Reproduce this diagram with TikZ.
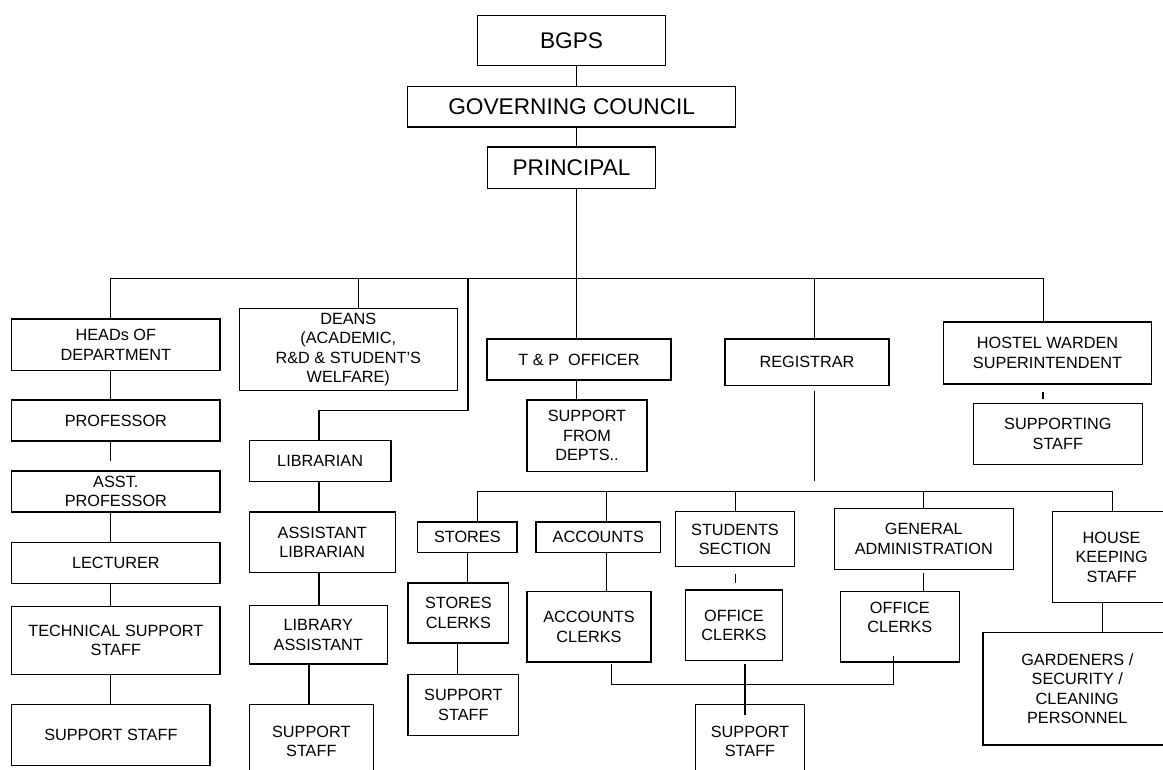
\documentclass[tikz,border=0pt]{standalone}
\usepackage{fontspec}
\setmainfont{Liberation Sans}
\usetikzlibrary{calc}
\tikzset{
  box/.style={draw, line width=0.8pt, inner sep=0pt, align=center, font=\fontsize{12.2}{14.5}\selectfont},
  bigbox/.style={box, font=\fontsize{17}{20}\selectfont},
  txt/.style={inner sep=0pt, align=center, font=\fontsize{12.2}{14.5}\selectfont},
  conn/.style={line width=0.8pt}
}
\newcommand\bx[7][box]{%
  \pgfmathsetmacro\mybw{(#5-#3)*0.75}%
  \pgfmathsetmacro\mybh{(#6-#4)*0.75}%
  \node[#1, minimum width=\mybw pt, minimum height=\mybh pt] (#2) at ({(#3+#5)/2},{(#4+#6)/2}) {#7};}
\begin{document}
\begin{tikzpicture}[x=0.75pt,y=-0.75pt]
\path[use as bounding box, clip] (0,0) rectangle (1163,769);
\fill[white] (0,0) rectangle (1163,769);
% top
\bx[bigbox]{bgps}{477.3}{15.7}{665.7}{65.7}{BGPS}
\bx[bigbox]{gc}{407.7}{86.7}{735.7}{127}{GOVERNING COUNCIL}
\bx[bigbox]{pr}{487.3}{147}{655.7}{188.3}{PRINCIPAL}
% left column
\bx{heads}{11.7}{319}{220}{370.7}{HEADs OF\\DEPARTMENT}
\bx{prof}{11.7}{400}{220}{441}{PROFESSOR}
\bx{asst}{11.7}{471}{220}{512}{ASST.\\PROFESSOR}
\bx{lect}{11.7}{542.3}{220}{583.3}{LECTURER}
\bx{tech}{11.7}{606.7}{220}{674.3}{TECHNICAL SUPPORT\\STAFF}
\bx{supa}{11.7}{704.3}{210}{765.7}{SUPPORT STAFF}
% deans / library
\bx{deans}{239.3}{308.7}{457.3}{390.3}{DEANS\\(ACADEMIC,\\R\&D \& STUDENT’S\\WELFARE)}
\bx{lib}{249.3}{440.7}{391}{481.3}{LIBRARIAN}
\bx{alib}{249.3}{512}{395.3}{572.7}{ASSISTANT\\LIBRARIAN}
\bx{liba}{249.3}{605.7}{387.3}{664}{LIBRARY\\ASSISTANT}
\bx{supb}{249.3}{704.3}{373.3}{779}{SUPPORT\\STAFF}
% T&P
\bx{tp}{487}{339}{671}{380}{T \& P\ \ OFFICER}
\bx{sfd}{527}{400}{647}{471.3}{SUPPORT\\FROM\\DEPTS..}
% registrar
\bx{reg}{725}{339}{889}{385.3}{REGISTRAR}
% hostel
\bx{hostel}{943.3}{322}{1151.7}{384}{HOSTEL WARDEN\\SUPERINTENDENT}
\bx{sting}{973.3}{403.3}{1142.3}{464.3}{SUPPORTING\\STAFF}
% registrar sections
\bx{stores}{417.7}{522}{517}{552.3}{STORES}
\bx{stc}{408}{583}{508.7}{643}{STORES\\CLERKS}
\bx{supc}{408}{674.3}{518.7}{735.3}{SUPPORT\\STAFF}
\bx{acc}{536}{522}{660.7}{552.3}{ACCOUNTS}
\bx{acc2}{527}{591.7}{651}{662}{ACCOUNTS\\CLERKS}
\bx{stu}{675.3}{511.7}{794.7}{566.7}{STUDENTS\\SECTION}
\bx{ocA}{685.7}{590}{782.3}{660.3}{OFFICE\\CLERKS}
\bx{supd}{695.7}{704.3}{804.3}{779}{SUPPORT\\STAFF}
\bx{ga}{834.3}{508.7}{1013.3}{569.3}{GENERAL\\ADMINISTRATION}
\bx{ocB}{840.3}{591.7}{959.3}{662}{}
\node[txt] at ($(ocB.center)+(0,-9.3)$) {OFFICE\\CLERKS};
\bx{hk}{1052.3}{511.7}{1171}{602.7}{HOUSE\\KEEPING\\STAFF}
\bx{gard}{983}{632.3}{1171.6}{745}{GARDENERS /\\SECURITY /\\CLEANING\\PERSONNEL}
% coordinates
\coordinate (sp) at (576.7,278.3);
\coordinate (bL) at (110.7,278.3);
\coordinate (bR) at (1043.3,278.3);
\coordinate (cd) at (358.7,278.3);
\coordinate (cr) at (814.3,278.3);
\coordinate (cl) at (468,278.3);
\coordinate (cl2) at (468,410.5);
\coordinate (cl3) at (319,410.5);
\coordinate (g1) at (110.7,461.3);
\coordinate (c2b) at (309,0);
\coordinate (r1) at (814.3,390.7);
\coordinate (r2) at (814.3,481);
\coordinate (sbL) at (477.7,491.7);
\coordinate (sbR) at (1112.3,491.7);
\coordinate (ca) at (606.7,491.7);
\coordinate (cs) at (735.3,491.7);
\coordinate (cg) at (923.7,491.7);
\coordinate (t1a) at (735.3,574);
\coordinate (t1b) at (735.3,582.7);
\coordinate (t2a) at (923.7,572.7);
\coordinate (t3a) at (1043,392);
\coordinate (t3b) at (1043,399.3);
\coordinate (x1) at (467.7,0);
\coordinate (x2) at (457.7,0);
\coordinate (a1) at (611.3,664);
\coordinate (a2) at (611.3,684.3);
\coordinate (a3) at (893.3,684.3);
\coordinate (a4) at (893.3,655.7);
\coordinate (o1) at (745,664);
\coordinate (o2) at (745,715);
\coordinate (h1) at (1102.3,0);
% connectors
\begin{scope}[conn]
\draw (sp |- bgps.south) -- (sp |- gc.north);
\draw (sp |- gc.south) -- (sp |- pr.north);
\draw (sp |- pr.south) -- (sp |- tp.north);
\draw (sp |- tp.south) -- (sp |- sfd.north);
\draw (bL |- heads.north) -- (bL) -- (bR) -- (bR |- hostel.north);
\draw (cd) -- (cd |- deans.north);
\draw (cr) -- (cr |- reg.north);
\draw (cl) -- (cl2) -- (cl3) -- (cl3 |- lib.north);
\draw (bL |- heads.south) -- (bL |- prof.north);
\draw (bL |- prof.south) -- (g1);
\draw (bL |- asst.south) -- (bL |- lect.north);
\draw (bL |- lect.south) -- (bL |- tech.north);
\draw (bL |- tech.south) -- (bL |- supa.north);
\draw (cl3 |- lib.south) -- (cl3 |- alib.north);
\draw (cl3 |- alib.south) -- (cl3 |- liba.north);
\draw (c2b |- liba.south) -- (c2b |- supb.north);
\draw (r1) -- (r2);
\draw (t3a) -- (t3b);
\draw (sbL |- stores.north) -- (sbL) -- (sbR) -- (sbR |- hk.north);
\draw (ca) -- (ca |- acc.north);
\draw (ca |- acc.south) -- (ca |- acc2.north);
\draw (cs) -- (cs |- stu.north);
\draw (t1a) -- (t1b);
\draw (cg) -- (cg |- ga.north);
\draw (t2a) -- (cg |- ocB.north);
\draw (x1 |- stores.south) -- (x1 |- stc.north);
\draw (x2 |- stc.south) -- (x2 |- supc.north);
\draw (a1) -- (a2) -- (a3) -- (a4);
\draw (o1) -- (o2);
\draw (h1 |- hk.south) -- (h1 |- gard.north);
\end{scope}
\end{tikzpicture}
\end{document}
